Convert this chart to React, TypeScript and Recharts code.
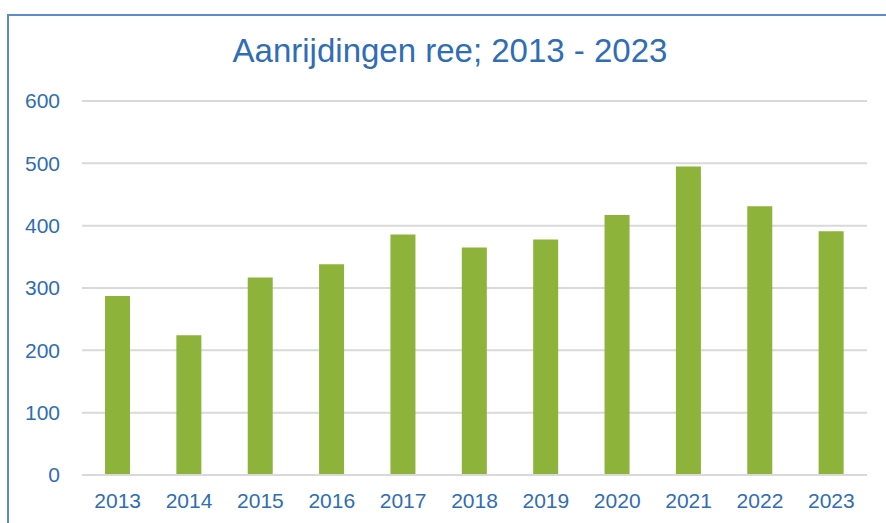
import React from "react";
import { BarChart, Bar, XAxis, YAxis, CartesianGrid } from "recharts";

const years = ["2013", "2014", "2015", "2016", "2017", "2018", "2019", "2020", "2021", "2022", "2023"];
const collisions = [287, 224, 317, 338, 386, 365, 378, 417, 495, 431, 391];
const yTicks = [0, 100, 200, 300, 400, 500, 600];
const title = "Aanrijdingen ree; 2013 - 2023";

const data = years.map((y, i) => ({ year: y, value: collisions[i] }));

const BLUE = "#2f6db5";
const GREEN = "#8db33b";
const GRID = "#d9d9d9";
const FONT = "'Liberation Sans', Arial, sans-serif";

export default function App() {
  return (
    <div style={{ position: "absolute", left: 0, top: 0, width: 886, height: 523, background: "#fff", overflow: "hidden", fontFamily: FONT }}>
      <div style={{ position: "absolute", left: 7, top: 14, width: 900, height: 600, borderTop: "2px solid #5b8cc8", borderLeft: "2px solid #5b8cc8", boxSizing: "border-box" }} />
      <div style={{ position: "absolute", left: 0, top: 31, width: 900, textAlign: "center", fontSize: 33, color: BLUE, lineHeight: "40px" }}>
        {title}
      </div>
      <div style={{ position: "absolute", left: 0, top: 0 }}>
        <BarChart width={886} height={523} data={data} margin={{ top: 101, right: 19, left: 0, bottom: 18 }}>
          <CartesianGrid horizontal vertical={false} stroke={GRID} strokeWidth={2} />
          <XAxis
            dataKey="year"
            height={30}
            axisLine={{ stroke: GRID, strokeWidth: 2 }}
            tickLine={false}
            tickSize={0}
            tickMargin={18}
            tick={{ fill: BLUE, fontSize: 21, fontFamily: FONT }}
          />
          <YAxis
            width={82}
            domain={[0, 600]}
            ticks={yTicks}
            axisLine={false}
            tickLine={false}
            tickSize={0}
            tickMargin={22}
            tick={{ fill: BLUE, fontSize: 21, fontFamily: FONT }}
          />
          <Bar dataKey="value" fill={GREEN} barSize={25} isAnimationActive={false} />
        </BarChart>
      </div>
    </div>
  );
}
